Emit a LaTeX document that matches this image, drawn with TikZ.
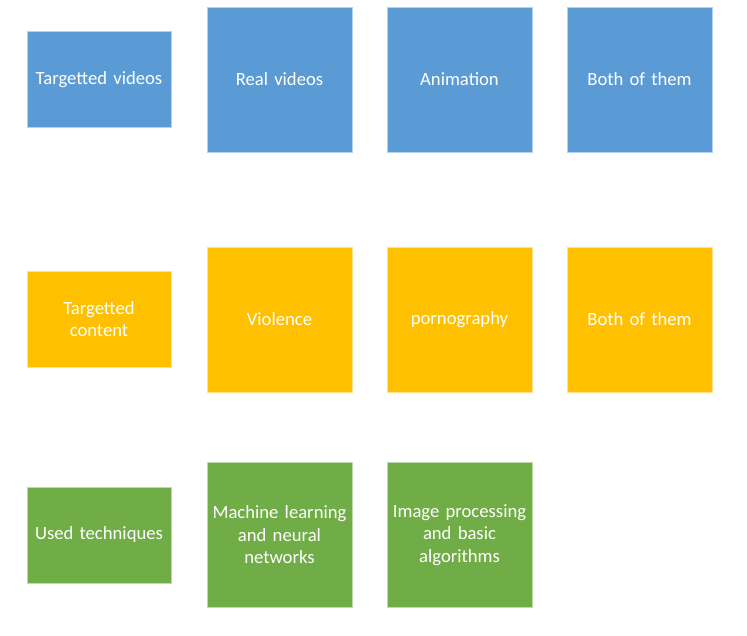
\documentclass[tikz,border=0pt]{standalone}
\usepackage{fontspec}
\setmainfont{Carlito}
\definecolor{cblue}{HTML}{5B9BD5}
\definecolor{corange}{HTML}{FFC000}
\definecolor{cgreen}{HTML}{70AD47}
\begin{document}
\begin{tikzpicture}[x=0.75pt,y=-0.75pt,
  box/.style={rectangle,draw=#1!45!white,fill=#1,line width=0.75pt,text=white,
    align=center,inner sep=2pt,font=\fontsize{14pt}{16.9pt}\selectfont},
  small/.style={box=#1,minimum width=108pt,minimum height=72pt,text width=104pt},
  big/.style={box=#1,minimum width=108.75pt,minimum height=108.75pt,text width=104pt}]
\useasboundingbox (0,0) rectangle (747,636);
% row 1
\node[small=cblue] (tv) at (99,79.5) {Targetted videos};
\node[big=cblue] (rv) at (279.5,79.5) {Real videos};
\node[big=cblue] (an) at (459.5,79.5) {Animation};
\node[big=cblue] (b1) at (639.5,79.5) {Both of them};
% row 2
\node[small=corange] (tc) at (99,319) {Targetted\\content};
\node[big=corange] (vi) at (279.5,319.5) {Violence};
\node[big=corange] (po) at (459.5,319.5) {pornography};
\node[big=corange] (b2) at (639.5,319.5) {Both of them};
% row 3
\node[small=cgreen] (ut) at (99,535) {Used techniques};
\node[big=cgreen] (ml) at (279.5,535) {Machine learning\\and neural\\networks};
\node[big=cgreen] (ip) at (459.5,535) {Image processing\\and basic\\algorithms};
\end{tikzpicture}
\end{document}
